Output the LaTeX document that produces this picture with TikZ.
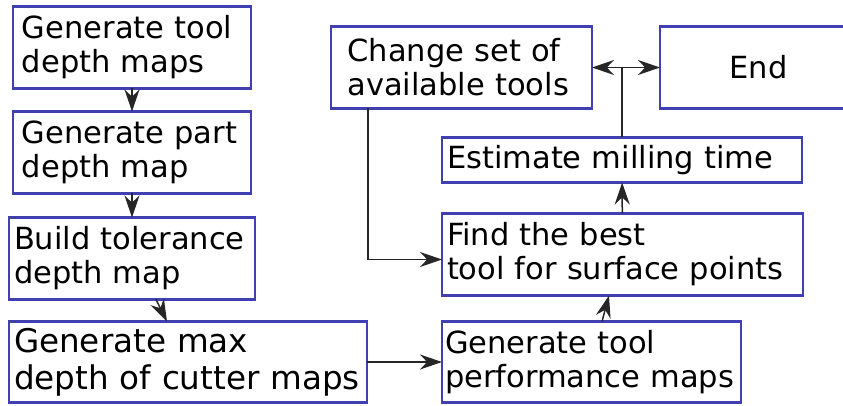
\documentclass[tikz,border=0pt]{standalone}
\usepackage{fontspec}
\setmainfont{DejaVu Sans}
\usepackage{tikz}
\usetikzlibrary{positioning, arrows.meta}
\definecolor{boxblue}{RGB}{64,64,176}

\begin{document}
\begin{tikzpicture}[
  >={Stealth[length=11pt,width=7.5pt]},
  line width=0.75pt,
  draw=black!85
]
\tikzstyle{stepbox}=[draw=boxblue, line width=1.3pt, fill=white, align=left, inner ysep=0pt, outer sep=0pt,
  minimum height=41pt, font=\fontsize{15.25}{17}\selectfont]

\useasboundingbox (0,0) rectangle (421.5pt,-203pt);

% ================= LEFT COLUMN =================
\node[stepbox, anchor=north west, text width=110pt, inner xsep=4.5pt] (tooldepth) at (6.5pt,-3.25pt) {Generate tool\\depth maps};
\node[stepbox, text width=110pt, inner xsep=4.5pt] (partdepth) [below=11.5pt of tooldepth] {Generate part\\depth map};
\node[stepbox, text width=118pt, inner xsep=2.5pt] (tolerance) [below=12pt of partdepth] {Build tolerance\\depth map};
\node[stepbox, text width=174pt, inner xsep=2.5pt, minimum height=40.5pt, font=\fontsize{16.3}{18.5}\selectfont] (cuttermaps) [below=11pt of tolerance.south west, anchor=north west] {Generate max\\depth of cutter maps};

% ================= RIGHT COLUMN =================
\node[stepbox, text width=146.5pt, inner xsep=1.5pt, minimum height=40.5pt] (perfmaps) [right=37.5pt of cuttermaps] {Generate tool\\performance maps};
\node[stepbox, text width=175.5pt, inner xsep=2.5pt] (besttool) [above=13pt of perfmaps.north west, anchor=south west] {Find the best\\tool for surface points};
\node[stepbox, text width=175pt, inner xsep=2.5pt, minimum height=22.5pt] (milltime) [above=15.5pt of besttool.north west, anchor=south west] {Estimate milling time};

% ================= TOP ROW =================
\node[stepbox, text width=114pt, inner xsep=8.25pt] (toolset) [above left=14.5pt and 55.5pt of milltime.north west, anchor=south west] {Change set of\\available tools};
\node[stepbox, align=center, minimum width=98.5pt] (finish) [right=34pt of toolset] {End};

\coordinate (split) at (milltime.north |- toolset.east);

% ===== Left column transitions =====
\draw[->] (tooldepth) -- (partdepth);
\draw[->] (partdepth) -- (tolerance);
\draw[->] ([xshift=12pt]tolerance.south) -- ([xshift=-10.5pt]cuttermaps.north);
\draw[->] (cuttermaps) -- (perfmaps);

% ===== Right column transitions =====
\draw[->] ([xshift=5.25pt]perfmaps.north) -- ([xshift=-6.75pt]besttool.south);
\draw[->] (besttool) -- (milltime);

% ===== Decision =====
\draw (milltime.north) -- (split);
\draw[->] (split) -- (toolset.east);
\draw[->] (split) -- (finish.west);
\draw[->] ([xshift=-46.75pt]toolset.south) |- ([yshift=-2.5pt]besttool.west);
\end{tikzpicture}
\end{document}
